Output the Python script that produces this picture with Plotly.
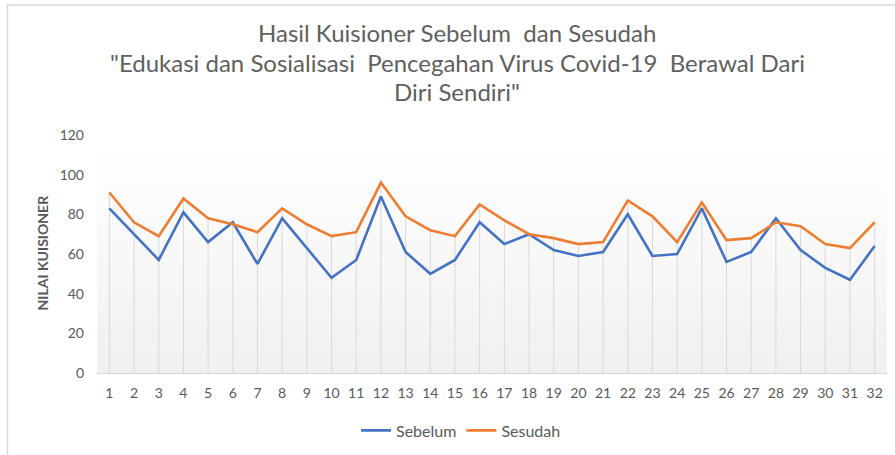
import plotly.graph_objects as go

responden = list(range(1, 33))
sebelum = [83, 70, 57, 81, 66, 76, 55, 78, 63, 48, 57, 89, 61, 50, 57, 76,
           65, 70, 62, 59, 61, 80, 59, 60, 83, 56, 61, 78, 62, 53, 47, 64]
sesudah = [91, 76, 69, 88, 78, 75, 71, 83, 75, 69, 71, 96, 79, 72, 69, 85,
           77, 70, 68, 65, 66, 87, 79, 66, 86, 67, 68, 76, 74, 65, 63, 76]
y_ticks = [0, 20, 40, 60, 80, 100, 120]
title_lines = ["Hasil Kuisioner Sebelum  dan Sesudah",
               "\"Edukasi dan Sosialisasi  Pencegahan Virus Covid-19  Berawal Dari",
               "Diri Sendiri\""]

W, H = 895, 455
L, R, T, B = 96.6, 7.6, 135, 80
pw, ph = W - L - R, H - T - B

def px_x(p):
    return (p - L) / pw

def px_y(p):
    return (H - B - p) / ph

FONT = "Lato"
GRAY = "#595959"

fig = go.Figure()

# gradient plot-area background
fig.add_trace(go.Scatter(
    x=[0.5, 32.5, 32.5, 0.5, 0.5], y=[0, 0, 120, 120, 0],
    mode="none", fill="toself",
    fillgradient=dict(type="vertical", start=0, stop=115,
                      colorscale=[[0, "#f0f0f0"], [1, "#ffffff"]]),
    hoverinfo="skip", showlegend=False))

# drop lines
top = [max(a, b) for a, b in zip(sebelum, sesudah)]
fig.add_trace(go.Scatter(
    x=responden, y=top, mode="markers",
    marker=dict(size=1, color="rgba(0,0,0,0)"),
    error_y=dict(type="data", symmetric=False, array=[0] * len(top),
                 arrayminus=top, color="#d9d9d9", thickness=1, width=0),
    hoverinfo="skip", showlegend=False))

fig.add_trace(go.Scatter(x=responden, y=sebelum, mode="lines", name="Sebelum",
                         line=dict(color="#4472C4", width=2.6)))
fig.add_trace(go.Scatter(x=responden, y=sesudah, mode="lines", name="Sesudah",
                         line=dict(color="#ED7D31", width=2.6)))

annotations = []
title_y = [32, 62, 91]
for txt, yy in zip(title_lines, title_y):
    annotations.append(dict(text=txt, xref="paper", yref="paper",
                            x=px_x(457), y=px_y(yy), xanchor="center", yanchor="middle",
                            showarrow=False, font=dict(family=FONT, size=24, color="#606060")))
annotations.append(dict(text="<b>NILAI KUISIONER</b>", xref="paper", yref="paper",
                        x=px_x(42), y=px_y(253), xanchor="center", yanchor="middle",
                        textangle=-90, showarrow=False,
                        font=dict(family=FONT, size=14, color=GRAY)))

fig.update_layout(
    width=W, height=H,
    margin=dict(l=L, r=R, t=T, b=B, pad=0),
    paper_bgcolor="white", plot_bgcolor="white",
    font=dict(family=FONT, color=GRAY, size=14),
    showlegend=True,
    legend=dict(orientation="h", x=px_x(461), y=px_y(433), xanchor="center",
                yanchor="middle", font=dict(family=FONT, size=16, color=GRAY),
                itemwidth=30, bgcolor="rgba(0,0,0,0)"),
    annotations=annotations,
    shapes=[dict(type="rect", xref="paper", yref="paper",
                 x0=px_x(7), x1=px_x(W + 20), y0=px_y(H + 20), y1=px_y(4),
                 line=dict(color="#d9d9d9", width=1.5), fillcolor="rgba(0,0,0,0)",
                 layer="below")],
    hovermode=False,
)
fig.update_xaxes(range=[0.5, 32.5], tickvals=responden, ticktext=[str(r) for r in responden],
                 showgrid=False, zeroline=False, showline=False, ticks="",
                 tickfont=dict(size=14, color=GRAY), ticklabelstandoff=10)
fig.update_yaxes(range=[0, 120], tickvals=y_ticks, showgrid=False, zeroline=True,
                 zerolinecolor="#d9d9d9", zerolinewidth=1, showline=False, ticks="",
                 tickfont=dict(size=14, color=GRAY), ticklabelstandoff=12)

fig.write_html("out.html", config={"displayModeBar": False},
               post_script="document.body.style.margin='0';")
